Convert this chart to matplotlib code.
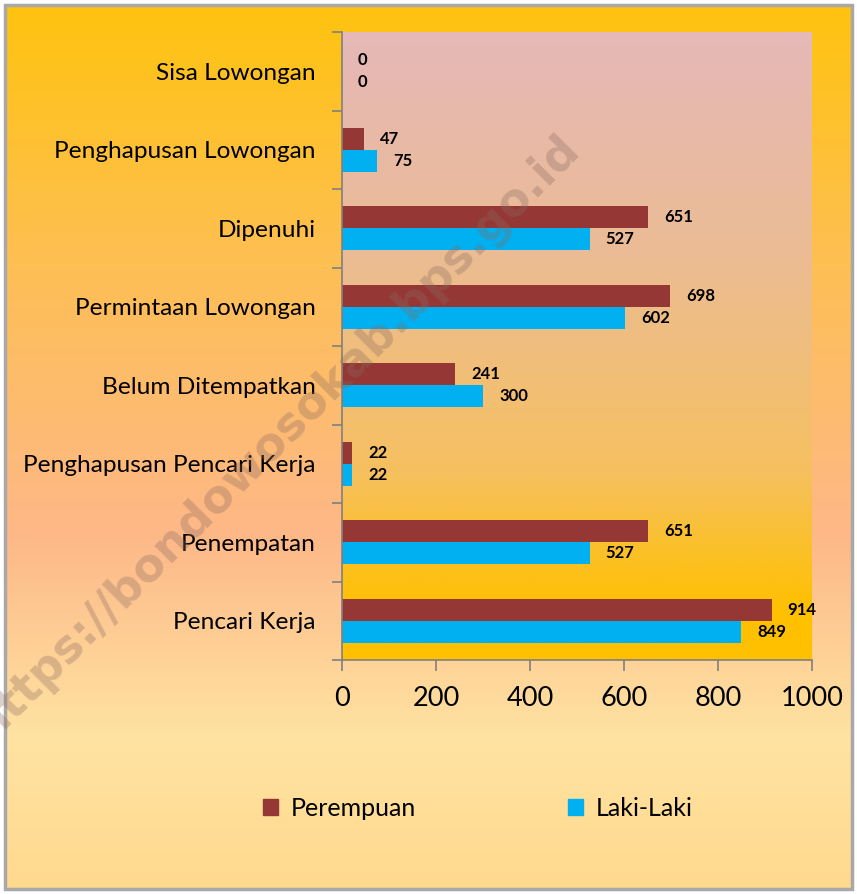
import numpy as np
import matplotlib
matplotlib.use("Agg")
import matplotlib.pyplot as plt
from matplotlib.colors import to_rgb
from matplotlib.patches import Rectangle, Patch

# ---- data ----
categories = ["Pencari Kerja", "Penempatan", "Penghapusan Pencari Kerja",
              "Belum Ditempatkan", "Permintaan Lowongan", "Dipenuhi",
              "Penghapusan Lowongan", "Sisa Lowongan"]
perempuan = [914, 651, 22, 241, 698, 651, 47, 0]
laki_laki = [849, 527, 22, 300, 602, 527, 75, 0]
series_names = ["Perempuan", "Laki-Laki"]
x_ticks = [0, 200, 400, 600, 800, 1000]

FONT = "Lato"
plt.rcParams["font.family"] = [FONT, "DejaVu Sans"]

W, H = 857, 894
fig = plt.figure(figsize=(W / 100, H / 100), dpi=100, facecolor="white")


def vgrad(stops, n=400):
    pos = np.array([s[0] for s in stops])
    cols = np.array([to_rgb(s[1]) for s in stops])
    t = np.linspace(0, 1, n)
    arr = np.stack([np.interp(t, pos, cols[:, i]) for i in range(3)], axis=1)
    return arr[:, None, :]


# figure background gradient
bg = fig.add_axes([5 / W, 5 / H, 847 / W, 884 / H], zorder=-10)
bg_arr = vgrad([(0.0, "#FFC30F"), (0.3, "#FEBF55"), (0.6, "#FDB888"),
                (0.83, "#FFE3A2"), (1.0, "#FFD98E")])
bg.imshow(np.repeat(bg_arr, 4, axis=1), aspect="auto", extent=[0, 1, 0, 1],
          origin="upper")
bg.set_axis_off()
fig.patches.append(Rectangle((5 / W, 5 / H), 847 / W, 884 / H,
                             transform=fig.transFigure, fill=False,
                             edgecolor="#A8A8A8", linewidth=2.5, zorder=5))

# main axes
ax = fig.add_axes([342 / W, 1 - 660 / H, 470 / W, 628 / H])
ax.set_xlim(0, 1000)
ax.set_ylim(-0.5, len(categories) - 0.5)
pa = vgrad([(0.0, "#E6B8B8"), (0.35, "#EBBC94"), (0.7, "#F6C060"),
            (0.92, "#FFC000"), (1.0, "#FFC000")])
ax.imshow(np.repeat(pa, 4, axis=1), aspect="auto",
          extent=[0, 1000, -0.5, len(categories) - 0.5], origin="upper",
          zorder=0)
ax.patch.set_alpha(0)

y = np.arange(len(categories))
h = 0.28
b1 = ax.barh(y + h / 2, perempuan, height=h, color="#953735", zorder=2,
             label=series_names[0])
b2 = ax.barh(y - h / 2, laki_laki, height=h, color="#00B0F0", zorder=2,
             label=series_names[1])

for bars, vals in ((b1, perempuan), (b2, laki_laki)):
    for bar, v in zip(bars, vals):
        ax.annotate(str(v), (bar.get_width(), bar.get_y() + bar.get_height() / 2),
                    xytext=(11.5, 0), textcoords="offset points",
                    ha="left", va="center", fontsize=12, fontweight="bold",
                    color="black", zorder=4)

ax.set_yticks(y)
ax.set_yticklabels(categories, fontsize=17.6)
ax.set_yticks(np.arange(-0.5, len(categories), 1), minor=True)
ax.tick_params(axis="y", which="major", length=0, pad=19)
ax.tick_params(axis="y", which="minor", length=7, color="#808080", width=1.2)
ax.set_xticks(x_ticks)
ax.set_xticklabels([str(t) for t in x_ticks], fontsize=19.5)
ax.tick_params(axis="x", length=8, color="#808080", width=1.2, pad=11)
for s in ("top", "right"):
    ax.spines[s].set_visible(False)
for s in ("left", "bottom"):
    ax.spines[s].set_color("#808080")
    ax.spines[s].set_linewidth(1.2)

# watermark
fig.text(277 / W, 1 - 438 / H, "https://bondowosokab.bps.go.id",
         rotation=45, fontsize=33, fontweight="bold", color="#8A6A60",
         alpha=0.32, ha="center", va="center", family="DejaVu Sans",
         zorder=10)

# legend
handles = [Patch(color="#953735"), Patch(color="#00B0F0")]
fig.legend(handles, series_names, loc="center",
           bbox_to_anchor=(478 / W, 1 - 808 / H), ncol=2, frameon=False,
           fontsize=18, handlelength=0.6, handleheight=0.6,
           handletextpad=0.5, columnspacing=6.1)

fig.savefig("out.png", dpi=100, facecolor="white")
